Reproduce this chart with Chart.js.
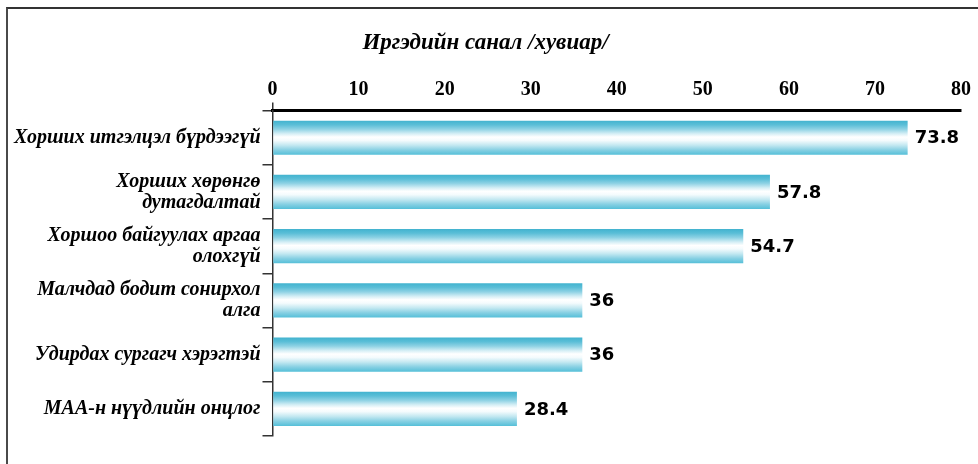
<!DOCTYPE html>
<html>
<head>
<meta charset="utf-8">
<script src="https://cdn.jsdelivr.net/npm/chart.js@4/dist/chart.umd.min.js"></script>
<style>
  body { margin: 0; background: #fff; }
  #wrap { position: relative; width: 978px; height: 464px; overflow: hidden; }
  #frame { position: absolute; left: 6px; top: 7px; width: 2000px; height: 1000px;
           border-left: 2px solid #4a4a4a; border-top: 2px solid #333; }
  #chart { position: absolute; left: 0; top: 0; }
</style>
</head>
<body>
<div id="wrap">
  <div id="frame"></div>
  <canvas id="chart" width="978" height="464"></canvas>
</div>
<script>
/* ===== ӨГӨГДӨЛ ===== */
const categories = [
  "Хорших итгэлцэл бүрдээгүй",
  ["Хорших хөрөнгө", "дутагдалтай"],
  ["Хоршоо байгуулах аргаа", "олохгүй"],
  ["Малчдад бодит сонирхол", "алга"],
  "Удирдах сургагч хэрэгтэй",
  "МАА-н нүүдлийн онцлог"
];
const votes = [73.8, 57.8, 54.7, 36, 36, 28.4];
const axisMin = 0;
const axisMax = 80;
const axisStep = 10;
const chartTitle = "Иргэдийн санал /хувиар/";

const BAR_PCT = 0.63;

/* ===== BAR GRADIENT ===== */
function barFill(c) {
  const chart = c.chart;
  const y = chart.scales.y;
  if (!chart.chartArea || !y) return "#6cc6dc";
  const band = (y.bottom - y.top) / categories.length;
  const mid = y.getPixelForValue(c.dataIndex);
  const half = band * BAR_PCT / 2;
  const g = chart.ctx.createLinearGradient(0, mid - half, 0, mid + half);
  g.addColorStop(0, "#42b3cf");
  g.addColorStop(0.12, "#5abed7");
  g.addColorStop(0.25, "#8ed2e4");
  g.addColorStop(0.38, "#d4eef5");
  g.addColorStop(0.48, "#ffffff");
  g.addColorStop(0.58, "#f4fbfd");
  g.addColorStop(0.72, "#c3e8f1");
  g.addColorStop(0.86, "#87d0e3");
  g.addColorStop(1, "#55bfd8");
  return g;
}

/* ===== VALUE LABELS ===== */
const valueLabels = {
  id: "valueLabels",
  afterDatasetsDraw(chart) {
    const ctx = chart.ctx;
    const meta = chart.getDatasetMeta(0);
    ctx.save();
    ctx.font = "bold 18px 'DejaVu Sans'";
    ctx.fillStyle = "#000";
    ctx.textBaseline = "middle";
    ctx.textAlign = "left";
    meta.data.forEach((bar, i) => {
      ctx.fillText(String(votes[i]), bar.x + 7, bar.y + 1);
    });
    ctx.restore();
  }
};

new Chart(document.getElementById("chart"), {
  type: "bar",
  data: {
    labels: categories,
    datasets: [{
      data: votes,
      backgroundColor: barFill,
      borderWidth: 0,
      categoryPercentage: 1,
      barPercentage: BAR_PCT
    }]
  },
  options: {
    indexAxis: "y",
    responsive: false,
    animation: false,
    devicePixelRatio: 1,
    layout: { padding: { left: 10, right: 17, top: 0, bottom: 28 } },
    plugins: {
      legend: { display: false },
      tooltip: { enabled: false },
      title: {
        display: true,
        text: chartTitle,
        color: "#000",
        font: { family: "'Liberation Serif'", size: 23, style: "italic", weight: "bold" },
        padding: { top: 29, bottom: 20 }
      }
    },
    scales: {
      x: {
        position: "top",
        min: axisMin,
        max: axisMax,
        ticks: {
          stepSize: axisStep,
          color: "#000",
          padding: 1,
          font: { family: "'Liberation Serif'", size: 20, weight: "bold" }
        },
        grid: {
          drawOnChartArea: false,
          tickLength: 8,
          lineWidth: 1.5,
          color: c => (c.tick && c.tick.value === 0 ? "#333" : "rgba(0,0,0,0)")
        },
        border: { display: true, color: "#000", width: 3 }
      },
      y: {
        afterFit: s => { s.width = 262.5; },
        ticks: {
          color: "#000",
          padding: 2,
          font: { family: "'Liberation Serif'", size: 20, style: "italic", weight: "bold", lineHeight: 1.05 }
        },
        grid: {
          drawOnChartArea: false,
          tickLength: 10,
          lineWidth: 1.5,
          color: "#333"
        },
        border: { display: true, color: "#333", width: 1.5 }
      }
    }
  },
  plugins: [valueLabels]
});
</script>
</body>
</html>
